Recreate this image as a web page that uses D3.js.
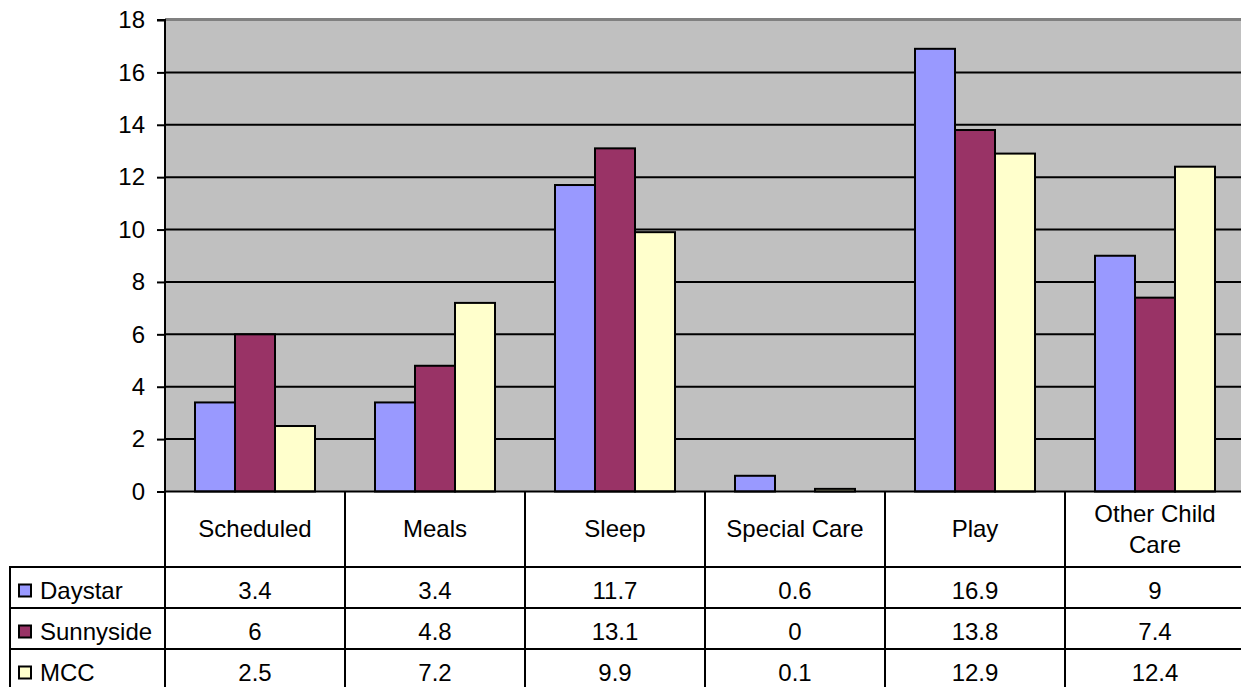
<!DOCTYPE html>
<html>
<head>
<meta charset="utf-8">
<script src="https://cdn.jsdelivr.net/npm/d3@7/dist/d3.min.js"></script>
<style>
  html, body { margin: 0; padding: 0; background: #fff; }
  svg text { font-family: "Liberation Sans", Arial, sans-serif; font-size: 24px; fill: #000; }
</style>
</head>
<body>
<svg id="chart" width="1241" height="687"></svg>
<script>
// Hours per activity by child care centre
const categories = ["Scheduled", "Meals", "Sleep", "Special Care", "Play", "Other Child Care"];
const categoryLines = [["Scheduled"], ["Meals"], ["Sleep"], ["Special Care"], ["Play"], ["Other Child", "Care"]];
const seriesNames = ["Daystar", "Sunnyside", "MCC"];
const daystar = [3.4, 3.4, 11.7, 0.6, 16.9, 9];
const sunnyside = [6, 4.8, 13.1, 0, 13.8, 7.4];
const mcc = [2.5, 7.2, 9.9, 0.1, 12.9, 12.4];
const seriesValues = [daystar, sunnyside, mcc];
const seriesColors = ["#9999FF", "#993366", "#FFFFCC"];
const yTicks = [0, 2, 4, 6, 8, 10, 12, 14, 16, 18];

const svg = d3.select("#chart");

const plotLeft = 165, plotRight = 1245, plotTop = 20, plotBottom = 491.5;
const rowTop = 567, rowH = 41, legendLeft = 10;

const x = d3.scaleBand().domain(categories).range([plotLeft, plotRight]).padding(0);
const xs = d3.scaleBand().domain(seriesNames).range([30, 150]).padding(0);
const y = d3.scaleLinear().domain([0, 18]).range([plotBottom, plotTop]);

// plot background
svg.append("rect")
  .attr("x", plotLeft).attr("y", plotTop)
  .attr("width", plotRight - plotLeft).attr("height", plotBottom - plotTop)
  .attr("fill", "#C0C0C0");

// top border of plot area
svg.append("line")
  .attr("x1", plotLeft).attr("x2", plotRight)
  .attr("y1", plotTop - 0.5).attr("y2", plotTop - 0.5)
  .attr("stroke", "#808080").attr("stroke-width", 3);

// horizontal gridlines
svg.append("g").selectAll("line")
  .data(yTicks.filter(t => t > 0 && t < 18))
  .join("line")
  .attr("x1", plotLeft).attr("x2", plotRight)
  .attr("y1", d => y(d)).attr("y2", d => y(d))
  .attr("stroke", "#000").attr("stroke-width", 2);

// bars
const groups = svg.append("g").selectAll("g")
  .data(seriesNames)
  .join("g");
groups.each(function(name, si) {
  d3.select(this).selectAll("rect")
    .data(seriesValues[si].map((v, ci) => ({ v, c: categories[ci] })))
    .join("rect")
    .attr("x", d => x(d.c) + xs(name))
    .attr("width", xs.bandwidth())
    .attr("y", d => y(d.v))
    .attr("height", d => plotBottom - y(d.v))
    .attr("fill", seriesColors[si])
    .attr("stroke", d => d.v > 0 ? "#000" : "none")
    .attr("stroke-width", 2);
});

// y axis
const yAxis = d3.axisLeft(y).tickValues(yTicks).tickSize(8).tickPadding(12);
const ya = svg.append("g").attr("transform", `translate(${plotLeft},0)`).call(yAxis);
ya.select(".domain").attr("stroke", "#000").attr("stroke-width", 2).attr("d", `M-8,${plotTop}H0V${plotBottom}`);
ya.selectAll(".tick line").attr("stroke", "#000").attr("stroke-width", 2);
ya.selectAll(".tick text")
  .style("font-family", '"Liberation Sans", Arial, sans-serif')
  .style("font-size", "24px").attr("fill", "#000");

// data table
const tableBottom = rowTop + rowH * 3;
const table = svg.append("g");

// vertical cell borders
const colEdges = categories.map(c => x(c)).concat([plotRight]);
table.selectAll("line.v")
  .data(colEdges)
  .join("line")
  .attr("class", "v")
  .attr("x1", d => d).attr("x2", d => d)
  .attr("y1", plotBottom).attr("y2", tableBottom)
  .attr("stroke", "#000").attr("stroke-width", 2);

table.append("line")
  .attr("x1", legendLeft).attr("x2", legendLeft)
  .attr("y1", rowTop).attr("y2", tableBottom)
  .attr("stroke", "#000").attr("stroke-width", 2);

// horizontal cell borders
table.append("line")
  .attr("x1", plotLeft - 1).attr("x2", plotRight)
  .attr("y1", plotBottom).attr("y2", plotBottom)
  .attr("stroke", "#000").attr("stroke-width", 2);
table.selectAll("line.h")
  .data([0, 1, 2, 3])
  .join("line")
  .attr("class", "h")
  .attr("x1", legendLeft - 1).attr("x2", plotRight)
  .attr("y1", d => rowTop + d * rowH).attr("y2", d => rowTop + d * rowH)
  .attr("stroke", "#000").attr("stroke-width", 2);

// category labels
const catMid = (plotBottom + rowTop) / 2 - 0.5;
table.selectAll("text.cat")
  .data(categories)
  .join("text")
  .attr("class", "cat")
  .attr("text-anchor", "middle")
  .attr("x", c => x(c) + x.bandwidth() / 2)
  .each(function(c, i) {
    const lines = categoryLines[i];
    const lh = 31;
    const start = catMid - (lines.length - 1) * lh / 2;
    d3.select(this).selectAll("tspan")
      .data(lines)
      .join("tspan")
      .attr("x", x(c) + x.bandwidth() / 2)
      .attr("y", (d, k) => start + k * lh)
      .attr("dy", "0.35em")
      .text(d => d);
  });

// legend keys and values
seriesNames.forEach((name, si) => {
  const cy = rowTop + si * rowH + rowH / 2 + 3;
  table.append("rect")
    .attr("x", 19).attr("y", cy - 6)
    .attr("width", 12).attr("height", 12)
    .attr("fill", seriesColors[si])
    .attr("stroke", "#000").attr("stroke-width", 2);
  table.append("text")
    .attr("x", 40).attr("y", cy).attr("dy", "0.35em")
    .text(name);
  table.selectAll(null)
    .data(seriesValues[si].map((v, ci) => ({ v, c: categories[ci] })))
    .join("text")
    .attr("text-anchor", "middle")
    .attr("x", d => x(d.c) + x.bandwidth() / 2)
    .attr("y", cy).attr("dy", "0.35em")
    .text(d => d.v);
});
</script>
</body>
</html>
